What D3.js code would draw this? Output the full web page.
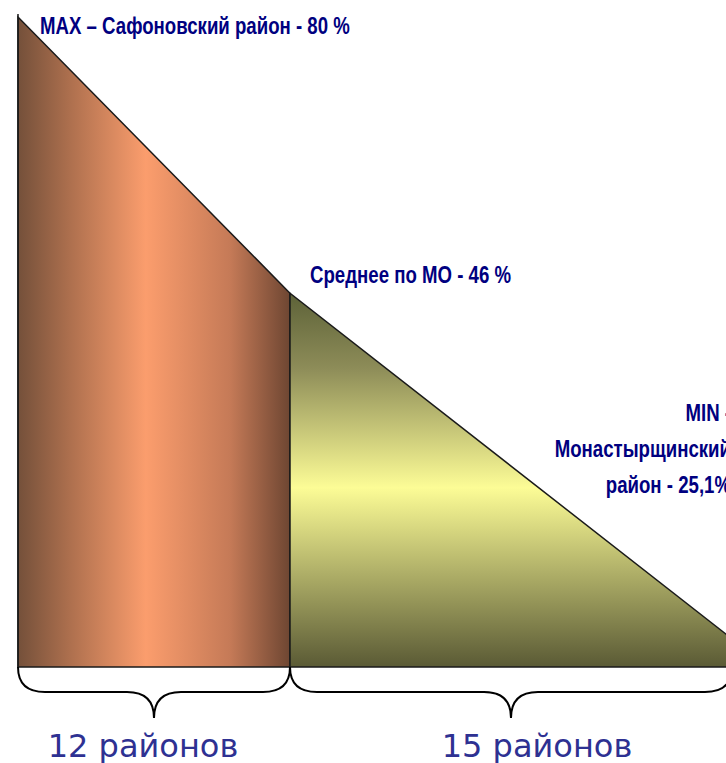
<!DOCTYPE html>
<html>
<head>
<meta charset="utf-8">
<script src="https://cdn.jsdelivr.net/npm/d3@7"></script>
<style>
  body { margin: 0; background: #fff; }
  .note { font-family: "Liberation Sans Narrow", "Arial Narrow", "Liberation Sans", sans-serif; font-weight: bold; fill: #000080; }
  .count { font-family: "DejaVu Sans", Tahoma, sans-serif; fill: #2E3192; }
</style>
</head>
<body>
<svg id="chart"></svg>
<script>
// district groups (left of average, right of average)
const groupCounts = [12, 15];
const groupLabels = ["12 районов", "15 районов"];
// share values along the profile: max, average, tail end of the min group
const profileValues = [80, 46, 0];
// annotation texts
const maxNote = "MAX – Сафоновский район - 80 %";
const avgNote = "Среднее по МО - 46 %";
const minNote = ["MIN -", "Монастырщинский", "район - 25,1%"];

const width = 726, height = 763;

const svg = d3.select("#chart")
  .attr("width", width)
  .attr("height", height);

// cumulative district positions: 0, 12, 27
const bounds = [0, ...d3.cumsum(groupCounts)];

// x is piecewise so the two groups keep the picture's proportions
const x = d3.scaleLinear()
  .domain(bounds)
  .range([18, 290, 768]);

const y = d3.scaleLinear()
  .domain([0, 80])
  .range([667, 17]);

const defs = svg.append("defs");

// orange: dark on both sides, light in the middle
const gOrange = defs.append("linearGradient")
  .attr("id", "orange")
  .attr("x1", 0).attr("y1", 0).attr("x2", 1).attr("y2", 0);
gOrange.append("stop").attr("offset", "0%").attr("stop-color", "#74503a");
gOrange.append("stop").attr("offset", "20%").attr("stop-color", "#b0714f");
gOrange.append("stop").attr("offset", "47%").attr("stop-color", "#fb9d6d");
gOrange.append("stop").attr("offset", "78%").attr("stop-color", "#c57a57");
gOrange.append("stop").attr("offset", "100%").attr("stop-color", "#6e4632");

// yellow: dark top and bottom, light in the middle
const gYellow = defs.append("linearGradient")
  .attr("id", "yellow")
  .attr("x1", 0).attr("y1", 0).attr("x2", 0).attr("y2", 1);
gYellow.append("stop").attr("offset", "0%").attr("stop-color", "#5d6238");
gYellow.append("stop").attr("offset", "20%").attr("stop-color", "#8d8c58");
gYellow.append("stop").attr("offset", "52%").attr("stop-color", "#fcfc96");
gYellow.append("stop").attr("offset", "100%").attr("stop-color", "#5a5a35");

const line = d3.line()
  .x(d => x(d[0]))
  .y(d => y(d[1]));

// left part: from max down to average
const leftShape = [
  [bounds[0], 0],
  [bounds[0], profileValues[0]],
  [bounds[1], profileValues[1]],
  [bounds[1], 0]
];

// right part: from average down to the end
const rightShape = [
  [bounds[1], 0],
  [bounds[1], profileValues[1]],
  [bounds[2], profileValues[2]]
];

svg.append("path")
  .attr("d", line(leftShape) + "Z")
  .attr("fill", "url(#orange)")
  .attr("stroke", "#1a1a1a")
  .attr("stroke-width", 1.5);

svg.append("path")
  .attr("d", line(rightShape) + "Z")
  .attr("fill", "url(#yellow)")
  .attr("stroke", "#1a1a1a")
  .attr("stroke-width", 1.5);

// left edge sticks up a little above the top
svg.append("line")
  .attr("x1", x(0)).attr("x2", x(0))
  .attr("y1", y(80) - 3).attr("y2", y(0))
  .attr("stroke", "#1a1a1a")
  .attr("stroke-width", 1.5);

// braces under each group
function brace(x0, x1, top) {
  const mid = top + 25, tip = top + 51, r = 27, xm = (x0 + x1) / 2;
  return `M${x0},${top} Q${x0},${mid} ${x0 + r},${mid} L${xm - r},${mid} Q${xm},${mid} ${xm},${tip}` +
         ` Q${xm},${mid} ${xm + r},${mid} L${x1 - r},${mid} Q${x1},${mid} ${x1},${top}`;
}

const braceEnds = [[x(bounds[0]), x(bounds[1])], [x(bounds[1]), 732]];

svg.selectAll(".brace")
  .data(braceEnds)
  .enter()
  .append("path")
  .attr("class", "brace")
  .attr("d", d => brace(d[0], d[1], y(0)))
  .attr("fill", "none")
  .attr("stroke", "#000")
  .attr("stroke-width", 2);

svg.selectAll(".count")
  .data(groupLabels)
  .enter()
  .append("text")
  .attr("class", "count")
  .attr("x", (d, i) => i === 0 ? 143 : 537)
  .attr("y", 757)
  .attr("text-anchor", "middle")
  .attr("font-size", 32)
  .text(d => d);

// narrow look: squeeze bold text horizontally
const squeeze = 0.81;
function narrow(sel) {
  sel.each(function() {
    const len = this.getComputedTextLength();
    d3.select(this)
      .attr("textLength", len * squeeze)
      .attr("lengthAdjust", "spacingAndGlyphs");
  });
}

// annotations
svg.append("text")
  .attr("class", "note")
  .attr("x", 40)
  .attr("y", 34)
  .attr("font-size", 23)
  .text(maxNote)
  .call(narrow);

svg.append("text")
  .attr("class", "note")
  .attr("x", 310)
  .attr("y", 283)
  .attr("font-size", 23)
  .text(avgNote)
  .call(narrow);

svg.selectAll(".minline")
  .data(minNote)
  .enter()
  .append("text")
  .attr("class", "note minline")
  .attr("text-anchor", "end")
  .attr("font-size", 23)
  .attr("x", 731)
  .attr("y", (d, i) => 421 + i * 36)
  .text(d => d)
  .call(narrow);
</script>
</body>
</html>
